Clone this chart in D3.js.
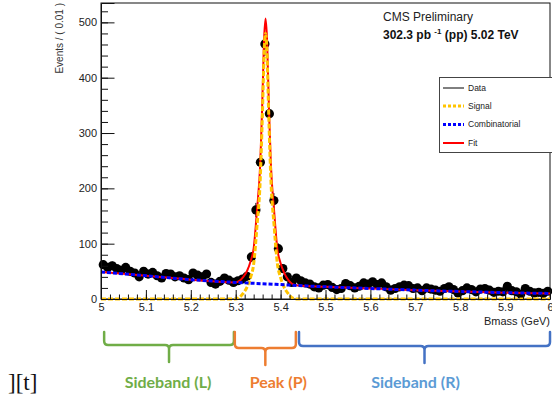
<!DOCTYPE html>
<html><head><meta charset="utf-8">
<script src="https://cdn.jsdelivr.net/npm/d3@7"></script>
<style>
html,body{margin:0;padding:0;background:#fff;}
svg{display:block;}
</style></head>
<body>
<svg id="c" width="552" height="396"></svg>
<script>
// ---------------- data ----------------
const binLow = 5.0, binWidth = 0.01;
// events per 0.01 GeV bin
const countsSidebandL = [62,57,60,55,52,57,50,47,40,50,45,48,42,38,46,45,40,42,38,35,47,43,40,45,30,27,32,38,34,30];
const countsPeak = [33,36,41,76,161,247,461,335,178,91,55,40,30,38];
const countsSidebandR = [33,29,27,22,20,25,26,21,17,19,28,24,20,23,29,27,31,26,29,22,16,19,22,25,24,19,20,15,20,18,16,14,19,22,17,11,15,20,17,13,18,19,16,12,14,13,23,15,13,9,19,14,11,12,10,14];

// combinatorial background curve
const bkgMass = [5.0,5.1,5.2,5.3,5.4,5.5,5.6,5.7,5.8,5.9,6.0];
const bkgVals = [49,42,35,30,26,22,19,16,13.5,11.5,10];

// signal curve
const sigMass = [5.0,5.2985,5.3085,5.3165,5.3255,5.3335,5.340,5.3475,5.3548,5.3585,5.3608,5.3628,5.3665,5.3702,5.3722,5.3745,5.3782,5.3855,5.393,5.3995,5.4075,5.4165,5.4245,5.4345,6.0];
const sigVals = [0,0,3,10,22,40,63,133,219,307,372,433,480,433,372,307,219,133,63,40,22,10,3,0,0];

// total fit curve
const fitMass = [5.0,5.1,5.2,5.2985,5.3085,5.3165,5.3255,5.3335,5.340,5.3475,5.3548,5.3585,5.3608,5.3628,5.3665,5.3702,5.3722,5.3745,5.3782,5.3855,5.393,5.3995,5.4075,5.4165,5.4245,5.4345,5.5,5.6,5.7,5.8,5.9,6.0];
const fitVals = [49,42,35,30,32.8,39.5,51,69,91.5,161,247,335,400,460,507,460,399,334,246,160,89,66,48,35,28,25,22,19,16,13.5,11.5,10];

const xTickValues = [5.0,5.1,5.2,5.3,5.4,5.5,5.6,5.7,5.8,5.9,6.0];
const xTickLabels = ["5","5.1","5.2","5.3","5.4","5.5","5.6","5.7","5.8","5.9","6"];
const yTickValues = [0,100,200,300,400,500];
const yTickLabels = ["0","100","200","300","400","500"];

const legendLabels = ["Data","Signal","Combinatorial","Fit"];

const regionLabels = ["Sideband (L)","Peak (P)","Sideband (R)"];
const regionLo = [5.007,5.298,5.441];
const regionHi = [5.296,5.434,6.0];

// ---------------- styles ----------------
const SANS = "'Liberation Sans', Arial, Helvetica, sans-serif";
const regionColors = ["#70AD47","#ED7D31","#4472C4"];
const regionTextColors = ["#70AD47","#ED7D31","#5B9BD5"];
const regionBarY = [345,348,346];
const regionTextDx = [-1,13,-9];

const svg = d3.select("#c");
const x = d3.scaleLinear().domain([5.0,6.0]).range([101,550]);
const y = d3.scaleLinear().domain([0,535]).range([299,3]);

// frame
svg.append("rect").attr("x",101).attr("y",3).attr("width",449).attr("height",296)
  .attr("fill","none").attr("stroke","#111").attr("stroke-width",1);

// data
const counts = [...countsSidebandL, ...countsPeak, ...countsSidebandR];
const bins = counts.map((n,i)=>({c: binLow + (i+0.5)*binWidth, n}));
const gData = svg.append("g");
gData.selectAll("line.ey").data(bins).enter().append("line")
  .attr("x1",d=>x(d.c)).attr("x2",d=>x(d.c))
  .attr("y1",d=>y(Math.max(0,d.n-Math.sqrt(d.n)))).attr("y2",d=>y(d.n+Math.sqrt(d.n)))
  .attr("stroke","#000").attr("stroke-width",1);
gData.selectAll("line.ex").data(bins).enter().append("line")
  .attr("x1",d=>x(d.c-binWidth/2)).attr("x2",d=>x(d.c+binWidth/2))
  .attr("y1",d=>y(d.n)).attr("y2",d=>y(d.n))
  .attr("stroke","#000").attr("stroke-width",1);
gData.selectAll("circle").data(bins).enter().append("circle")
  .attr("cx",d=>x(d.c)).attr("cy",d=>y(d.n)).attr("r",4.6).attr("fill","#000");

// curves
const line = d3.line().x(d=>x(d[0])).y(d=>y(d[1])).curve(d3.curveMonotoneX);
svg.append("path").attr("d",line(d3.zip(fitMass,fitVals)))
  .attr("fill","none").attr("stroke","#ff0000").attr("stroke-width",2);
svg.append("path").attr("d",line(d3.zip(sigMass,sigVals)))
  .attr("fill","none").attr("stroke","#FFC400").attr("stroke-width",3).attr("stroke-dasharray","5,2");
svg.append("path").attr("d",line(d3.zip(bkgMass,bkgVals)))
  .attr("fill","none").attr("stroke","#0000ff").attr("stroke-width",3).attr("stroke-dasharray","4,2");

// axes (ROOT style, ticks inside)
const gx = svg.append("g").attr("transform","translate(0,299)")
  .call(d3.axisBottom(x).tickValues(d3.range(0,51).map(i=>5+i*0.02)).tickSize(-4.5).tickFormat(""));
gx.select(".domain").remove();
gx.selectAll("line").attr("stroke","#111");
const gx2 = svg.append("g").attr("transform","translate(0,299)")
  .call(d3.axisBottom(x).tickValues(xTickValues).tickSize(-9).tickPadding(4)
    .tickFormat((d,i)=>xTickLabels[i]));
gx2.select(".domain").attr("stroke","#111");
gx2.selectAll("line").attr("stroke","#111");
gx2.selectAll("text").attr("font-family",SANS).attr("font-size",11).attr("fill","#222");

const gy = svg.append("g").attr("transform","translate(101,0)")
  .call(d3.axisLeft(y).tickValues(d3.range(0,27).map(i=>i*20)).tickSize(-7).tickFormat(""));
gy.select(".domain").remove();
gy.selectAll("line").attr("stroke","#111");
const gy2 = svg.append("g").attr("transform","translate(101,0)")
  .call(d3.axisLeft(y).tickValues(yTickValues).tickSize(-13.5).tickPadding(4)
    .tickFormat((d,i)=>yTickLabels[i]));
gy2.select(".domain").attr("stroke","#111");
gy2.selectAll("line").attr("stroke","#111");
gy2.selectAll("text").attr("font-family",SANS).attr("font-size",11).attr("fill","#222");

// axis titles
svg.append("text").attr("x",550).attr("y",325).attr("text-anchor","end")
  .attr("font-family",SANS).attr("font-size",11).attr("fill","#222").text("Bmass (GeV)");
svg.append("text").attr("transform","translate(62.5,3) rotate(-90)").attr("text-anchor","end")
  .attr("font-family",SANS).attr("font-size",10).attr("fill","#333").text("Events / ( 0.01 )");

// CMS labels
svg.append("text").attr("x",383).attr("y",21).attr("font-family",SANS).attr("font-size",12)
  .attr("fill","#222").text("CMS Preliminary");
const t2 = svg.append("text").attr("x",383).attr("y",39).attr("font-family",SANS)
  .attr("font-size",12).attr("font-weight","bold").attr("fill","#111");
t2.append("tspan").text("302.3 pb ");
t2.append("tspan").attr("font-size",8).attr("dy",-5).text("-1");
t2.append("tspan").attr("dy",5).text(" (pp) 5.02 TeV");

// legend
const lg = svg.append("g");
lg.append("rect").attr("x",439.5).attr("y",77.5).attr("width",115).attr("height",75)
  .attr("fill","#fff").attr("stroke","#444").attr("stroke-width",1);
const legStyles = [
  {c:"#000",w:1,dash:null},
  {c:"#FFC400",w:3,dash:"3,2"},
  {c:"#0000ff",w:3,dash:"3,2"},
  {c:"#ff0000",w:2,dash:null}
];
const legY = [88,106,124.5,143];
legendLabels.forEach((lab,i)=>{
  const s = legStyles[i];
  const l = lg.append("line").attr("x1",443).attr("x2",464).attr("y1",legY[i]).attr("y2",legY[i])
    .attr("stroke",s.c).attr("stroke-width",s.w);
  if (s.dash) l.attr("stroke-dasharray",s.dash);
  lg.append("text").attr("x",468).attr("y",legY[i]).attr("dy","0.35em")
    .attr("font-family",SANS).attr("font-size",8.5).attr("fill","#222").text(lab);
});

// bottom annotation: braces and labels
const braceTop = 332, braceR = 4;
regionLabels.forEach((lab,i)=>{
  const lo = x(regionLo[i]), hi = x(regionHi[i]), mid = (lo+hi)/2, hy = regionBarY[i];
  const bottom = hy + 17;
  const p = d3.path();
  p.moveTo(lo, braceTop); p.lineTo(lo, hy-braceR); p.quadraticCurveTo(lo, hy, lo+braceR, hy);
  p.lineTo(mid-braceR, hy); p.quadraticCurveTo(mid, hy, mid, hy+braceR); p.lineTo(mid, bottom);
  p.moveTo(mid, hy+braceR); p.quadraticCurveTo(mid, hy, mid+braceR, hy);
  p.lineTo(hi-braceR, hy); p.quadraticCurveTo(hi, hy, hi, hy-braceR); p.lineTo(hi, braceTop);
  svg.append("path").attr("d",p.toString()).attr("fill","none")
    .attr("stroke",regionColors[i]).attr("stroke-width",2.5).attr("stroke-linecap","round");
  svg.append("text").attr("x",mid+regionTextDx[i]).attr("y",388).attr("text-anchor","middle")
    .attr("font-family","Lato, 'Open Sans', sans-serif").attr("font-weight","bold").attr("font-size",16)
    .attr("fill",regionTextColors[i]).text(lab);
});
svg.append("text").attr("x",8).attr("y",390).attr("font-family","'Liberation Serif', 'DejaVu Serif', serif")
  .attr("font-size",23).attr("fill","#111").text("][t]");
</script>
</body></html>
